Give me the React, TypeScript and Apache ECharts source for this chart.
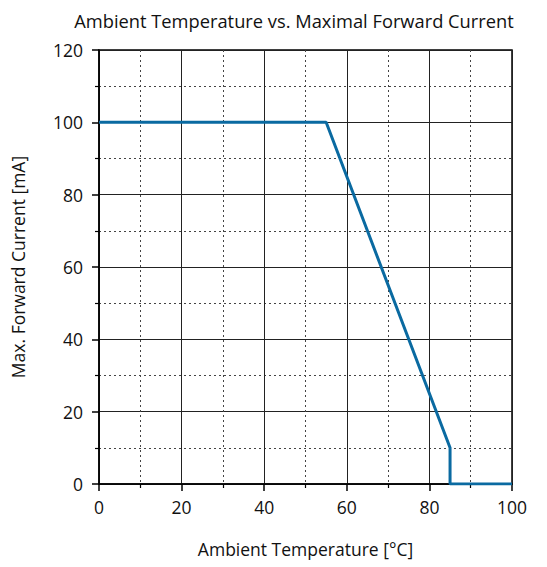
import React, { useEffect, useRef } from "react";
import * as echarts from "echarts";

const temperatures = [0, 55, 85, 85, 100];
const currents = [100, 100, 10, 0, 0];
const titleText = "Ambient Temperature vs. Maximal Forward Current";
const xName = "Ambient Temperature [°C]";
const yName = "Max. Forward Current [mA]";

const FONT = "'Open Sans', 'Noto Sans', sans-serif";

export default function App() {
  const ref = useRef<HTMLDivElement>(null);
  useEffect(() => {
    if (!ref.current) return;
    const chart = echarts.init(ref.current, null, { renderer: "svg" });
    const axisCommon = {
      axisLine: { show: true, lineStyle: { color: "#000", width: 1.5 } },
      axisTick: { show: true, inside: false, length: 7, lineStyle: { color: "#000", width: 1.5 } },
      minorTick: { show: true, splitNumber: 2, length: 4, lineStyle: { color: "#000", width: 1.2 } },
      splitLine: { show: true, lineStyle: { color: "#222", width: 1 } },
      minorSplitLine: { show: true, lineStyle: { color: "#444", width: 1, type: [2, 3] } },
      axisLabel: { color: "#111", fontSize: 17.5, fontFamily: FONT },
      nameTextStyle: { color: "#111", fontSize: 17.5, fontFamily: FONT },
    };
    chart.setOption({
      animation: false,
      title: {
        text: titleText,
        left: 289,
        top: 6,
        textAlign: "center",
        textStyle: { color: "#111", fontSize: 18.3, fontWeight: "normal", fontFamily: FONT },
      },
      grid: { left: 99, right: 35, top: 50, bottom: 83, show: true, borderColor: "#000", borderWidth: 1.5 },
      xAxis: {
        type: "value",
        min: 0,
        max: 100,
        interval: 20,
        name: xName,
        nameLocation: "middle",
        nameGap: 56,
        ...axisCommon,
        axisLabel: { ...axisCommon.axisLabel, margin: 14 },
      },
      yAxis: {
        type: "value",
        min: 0,
        max: 120,
        interval: 20,
        name: yName,
        nameLocation: "middle",
        nameGap: 72,
        ...axisCommon,
        axisLabel: { ...axisCommon.axisLabel, margin: 16 },
      },
      series: [
        {
          type: "line",
          data: temperatures.map((t, i) => [t, currents[i]]),
          showSymbol: false,
          lineStyle: { color: "#0a6aa1", width: 3 },
          itemStyle: { color: "#0a6aa1" },
        },
      ],
    });
    return () => chart.dispose();
  }, []);
  return (
    <div
      ref={ref}
      style={{ position: "fixed", left: 0, top: 0, width: 547, height: 567, background: "#fff" }}
    />
  );
}
